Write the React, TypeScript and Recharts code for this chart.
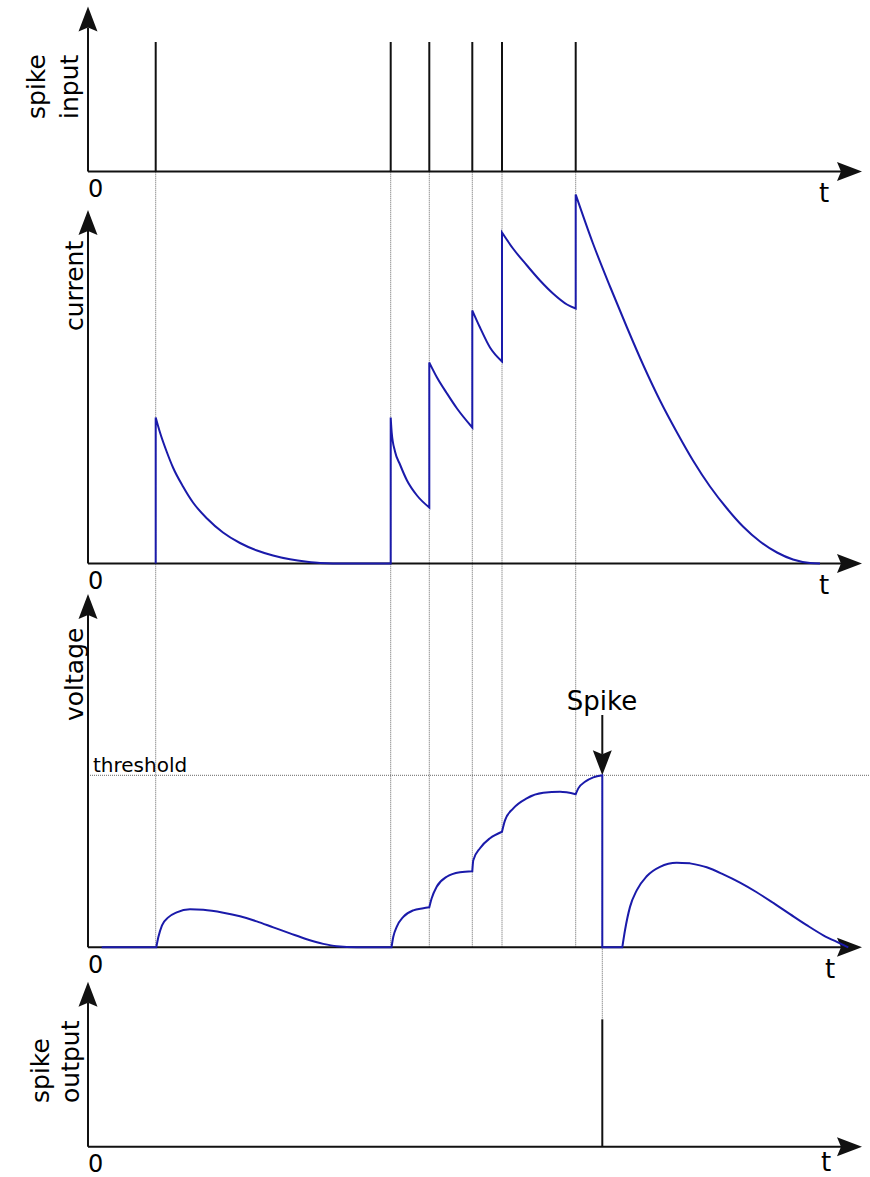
import { ComposedChart, Line, XAxis, YAxis, ReferenceLine } from 'recharts'

// spike times (t axis runs 0 .. 774)
const SPIKE_IN_T = [67.7, 302.7, 341.3, 384.3, 414, 487.7]
const SPIKE_OUT_T = [514.3]
const THRESHOLD = 1

// [t, current]
const CURRENT: [number, number][] = [
  [67.7, 0], [67.7, 1.46], [72, 1.31], [79, 1.11], [85, 0.96], [95, 0.77], [105, 0.61], [119, 0.45],
  [135, 0.31], [152, 0.205], [169, 0.13], [185, 0.08], [202, 0.042], [219, 0.017], [232, 0.004], [245, 0],
  [302.7, 0], [302.7, 1.46], [303.7, 1.31], [307, 1.12], [312, 0.99], [319, 0.83], [329, 0.68], [341.3, 0.56],
  [341.3, 2.01], [349, 1.86], [359, 1.7], [369, 1.55], [384.3, 1.36],
  [384.3, 2.53], [392, 2.36], [402, 2.16], [414, 2.02],
  [414, 3.31], [425, 3.15], [439, 2.98], [452, 2.83], [465, 2.7], [479, 2.59], [487.7, 2.55],
  [487.7, 3.69], [505, 3.2], [522, 2.77], [539, 2.36], [555, 1.99], [572, 1.63], [589, 1.31],
  [605, 1.03], [622, 0.77], [639, 0.55], [655, 0.37], [672, 0.22], [689, 0.11], [705, 0.04],
  [722, 0.005], [732, 0],
]

// [t, voltage], threshold = 1
const VOLTAGE: [number, number][] = [
  [13.7, 0], [68.3, 0], [70.3, 0.058], [74, 0.128], [80.3, 0.174], [88.7, 0.203], [102, 0.221],
  [115.3, 0.218], [135.3, 0.201], [152, 0.18], [168.7, 0.151], [185.3, 0.116], [202, 0.081],
  [218.7, 0.047], [235.3, 0.02], [248.7, 0.006], [268.7, 0],
  [303.5, 0], [305.3, 0.061], [308.7, 0.119], [315.3, 0.177], [325.3, 0.215], [335.3, 0.227], [341.3, 0.233],
  [343.7, 0.285], [348.7, 0.352], [358.7, 0.41], [372, 0.436], [384.3, 0.442],
  [385.3, 0.506], [392, 0.576], [402, 0.634], [414, 0.672],
  [417, 0.738], [425.3, 0.808], [438.7, 0.866], [455.3, 0.898], [472, 0.904], [487.7, 0.89],
  [490.3, 0.924], [497, 0.962], [505.3, 0.988], [514.3, 1], [514.3, 0],
  [534.3, 0], [537, 0.099], [542, 0.235], [548.7, 0.331], [558.7, 0.413], [572, 0.468],
  [588.7, 0.491], [602, 0.488], [618.7, 0.465], [635.3, 0.424], [652, 0.376], [668.7, 0.32],
  [685.3, 0.258], [702, 0.193], [718.7, 0.129], [735.3, 0.07], [752, 0.023], [760.3, 0],
]

const W = 870
const H = 1177
const X0 = 88
const X_END = 774
const BLUE = '#1a1aaa'
const INK = '#111'
const GUIDE = '#666'
const FONT = '"DejaVu Sans", Verdana, sans-serif'

type Panel = { base: number; k: number; tip: number }
// each panel: baseline pixel, pixels per unit, y-arrow tip pixel
const PANELS: Record<string, Panel> = {
  in: { base: 171.5, k: 129.5, tip: 6.5 },
  cur: { base: 563.5, k: 100, tip: 210 },
  volt: { base: 947.3, k: 172, tip: 594 },
  out: { base: 1146.7, k: 127.4, tip: 981.7 },
}
const domainOf = (p: Panel) => [(p.base - H) / p.k, p.base / p.k]
const toUnits = (p: Panel, px: number) => (p.base - px) / p.k

const toRows = (pairs: [number, number][]) => pairs.map(([t, v]) => ({ t, v }))

// monotone curve that keeps vertical jumps and kinks sharp
function jumpMonotone(context: any) {
  let xs: number[] = []
  let ys: number[] = []
  const slope = (i: number, j: number) => (ys[j] - ys[i]) / (xs[j] - xs[i])
  const drawRun = (run: number[], first: boolean) => {
    const X = run.map((i) => xs[i])
    const Y = run.map((i) => ys[i])
    if (first) context.moveTo(X[0], Y[0])
    else context.lineTo(X[0], Y[0])
    const n = run.length
    if (n < 2) return
    const s: number[] = []
    for (let j = 0; j < n - 1; j++) s.push((Y[j + 1] - Y[j]) / (X[j + 1] - X[j]))
    const m: number[] = new Array(n).fill(0)
    for (let j = 1; j < n - 1; j++) {
      const h0 = X[j] - X[j - 1]
      const h1 = X[j + 1] - X[j]
      const p = (s[j - 1] * h1 + s[j] * h0) / (h0 + h1)
      m[j] =
        (Math.sign(s[j - 1]) + Math.sign(s[j])) *
          Math.min(Math.abs(s[j - 1]), Math.abs(s[j]), 0.5 * Math.abs(p)) || 0
    }
    if (n === 2) {
      m[0] = s[0]
      m[1] = s[0]
    } else {
      m[0] = (3 * s[0] - m[1]) / 2
      m[n - 1] = (3 * s[n - 2] - m[n - 2]) / 2
    }
    for (let j = 0; j < n - 1; j++) {
      const dx = (X[j + 1] - X[j]) / 3
      context.bezierCurveTo(X[j] + dx, Y[j] + dx * m[j], X[j + 1] - dx, Y[j + 1] - dx * m[j + 1], X[j + 1], Y[j + 1])
    }
  }
  return {
    areaStart() {},
    areaEnd() {},
    lineStart() {
      xs = []
      ys = []
    },
    point(x: number, y: number) {
      xs.push(+x)
      ys.push(+y)
    },
    lineEnd() {
      if (!xs.length) return
      const runs: number[][] = []
      let cur: number[] = [0]
      for (let i = 1; i < xs.length; i++) {
        if (Math.abs(xs[i] - xs[i - 1]) < 0.01) {
          runs.push(cur)
          cur = [i]
          continue
        }
        cur.push(i)
        if (i + 1 < xs.length && Math.abs(xs[i + 1] - xs[i]) >= 0.01) {
          const sb = Math.abs(slope(i - 1, i))
          const sa = Math.abs(slope(i, i + 1))
          if (sa > 4 * sb + 0.05) {
            runs.push(cur)
            cur = [i]
          }
        }
      }
      runs.push(cur)
      runs.forEach((run, ri) => drawRun(run, ri === 0))
    },
  }
}

function ArrowShape(props: any) {
  const { x1, y1, x2, y2 } = props
  const len = Math.hypot(x2 - x1, y2 - y1) || 1
  const ux = (x2 - x1) / len
  const uy = (y2 - y1) / len
  const L = 25
  const hw = 9.5
  const bx = x2 - ux * L
  const by = y2 - uy * L
  const nx = -uy * hw
  const ny = ux * hw
  const mx = bx + ux * 4
  const my = by + uy * 4
  return (
    <g>
      <line x1={x1} y1={y1} x2={mx} y2={my} stroke={INK} strokeWidth={2} />
      <polygon
        points={`${x2},${y2} ${bx + nx},${by + ny} ${mx},${my} ${bx - nx},${by - ny}`}
        fill={INK}
      />
    </g>
  )
}

const AXIS_LABELS = [
  { text: 'spike', x: 45, y: 119 },
  { text: 'input', x: 78, y: 119 },
  { text: 'current', x: 83, y: 331 },
  { text: 'voltage', x: 83, y: 721 },
  { text: 'spike', x: 48.5, y: 1103 },
  { text: 'output', x: 79, y: 1103 },
]
const T_X: Record<string, number> = { in: 819, cur: 819, volt: 825, out: 821 }
const T_DY: Record<string, number> = { in: 30, cur: 30.5, volt: 30.5, out: 24 }

export default function App() {
  const volt = PANELS.volt
  return (
    <div style={{ position: 'absolute', left: 0, top: 0, width: W, height: H, background: '#fff' }}>
      <ComposedChart width={W} height={H} margin={{ top: 0, right: 0, bottom: 0, left: 0 }}>
        <XAxis type="number" dataKey="t" domain={[-X0, W - X0]} hide allowDataOverflow />
        {Object.entries(PANELS).map(([id, p]) => (
          <YAxis key={id} yAxisId={id} type="number" domain={domainOf(p)} hide allowDataOverflow />
        ))}

        {/* dotted guides */}
        {SPIKE_IN_T.map((t) => (
          <ReferenceLine
            key={'g' + t}
            yAxisId="volt"
            ifOverflow="visible"
            segment={[{ x: t, y: 0 }, { x: t, y: toUnits(volt, PANELS.in.base) }]}
            stroke={GUIDE}
            strokeWidth={1}
            strokeDasharray="1 1"
          />
        ))}
        {SPIKE_OUT_T.map((t) => (
          <ReferenceLine
            key={'go' + t}
            yAxisId="volt"
            ifOverflow="visible"
            segment={[{ x: t, y: THRESHOLD }, { x: t, y: toUnits(volt, PANELS.out.base - PANELS.out.k) }]}
            stroke={GUIDE}
            strokeWidth={1}
            strokeDasharray="1 1"
          />
        ))}
        <ReferenceLine
          yAxisId="volt"
          ifOverflow="visible"
          segment={[{ x: 0, y: THRESHOLD }, { x: 781, y: THRESHOLD }]}
          stroke={GUIDE}
          strokeWidth={1}
          strokeDasharray="1 1"
        />

        {/* axes with arrows */}
        {Object.entries(PANELS).map(([id]) => (
          <ReferenceLine
            key={'x' + id}
            yAxisId={id}
            ifOverflow="visible"
            segment={[{ x: 0, y: 0 }, { x: X_END, y: 0 }]}
            shape={ArrowShape}
          />
        ))}
        {Object.entries(PANELS).map(([id, p]) => (
          <ReferenceLine
            key={'y' + id}
            yAxisId={id}
            ifOverflow="visible"
            segment={[{ x: 0, y: 0 }, { x: 0, y: toUnits(p, p.tip) }]}
            shape={ArrowShape}
          />
        ))}

        {/* spike trains */}
        {SPIKE_IN_T.map((t) => (
          <ReferenceLine
            key={'s' + t}
            yAxisId="in"
            ifOverflow="visible"
            segment={[{ x: t, y: 0 }, { x: t, y: 1 }]}
            stroke={INK}
            strokeWidth={2}
          />
        ))}
        {SPIKE_OUT_T.map((t) => (
          <ReferenceLine
            key={'o' + t}
            yAxisId="out"
            ifOverflow="visible"
            segment={[{ x: t, y: 0 }, { x: t, y: 1 }]}
            stroke={INK}
            strokeWidth={2}
          />
        ))}

        {/* "Spike" pointer */}
        {SPIKE_OUT_T.map((t) => (
          <ReferenceLine
            key={'p' + t}
            yAxisId="volt"
            ifOverflow="visible"
            segment={[{ x: t, y: toUnits(volt, 715) }, { x: t, y: THRESHOLD }]}
            shape={ArrowShape}
          />
        ))}

        <Line
          yAxisId="cur"
          data={toRows(CURRENT)}
          dataKey="v"
          type={jumpMonotone as any}
          stroke={BLUE}
          strokeWidth={2}
          dot={false}
          activeDot={false}
          isAnimationActive={false}
        />
        <Line
          yAxisId="volt"
          data={toRows(VOLTAGE)}
          dataKey="v"
          type={jumpMonotone as any}
          stroke={BLUE}
          strokeWidth={2}
          dot={false}
          activeDot={false}
          isAnimationActive={false}
        />
      </ComposedChart>

      <svg
        width={W}
        height={H}
        style={{ position: 'absolute', left: 0, top: 0, pointerEvents: 'none' }}
        fontFamily={FONT}
        fill="#000"
      >
        {AXIS_LABELS.map((l, i) => (
          <text key={i} x={l.x} y={l.y} fontSize={25} transform={`rotate(-90 ${l.x} ${l.y})`}>
            {l.text}
          </text>
        ))}
        {Object.entries(PANELS).map(([id, p]) => (
          <g key={id}>
            <text x={88} y={p.base + 25.5} fontSize={24}>0</text>
            <text x={T_X[id]} y={p.base + T_DY[id]} fontSize={26}>t</text>
          </g>
        ))}
        <text x={93} y={771.5} fontSize={20}>threshold</text>
        <text x={602} y={710} fontSize={26} textAnchor="middle">Spike</text>
      </svg>
    </div>
  )
}
